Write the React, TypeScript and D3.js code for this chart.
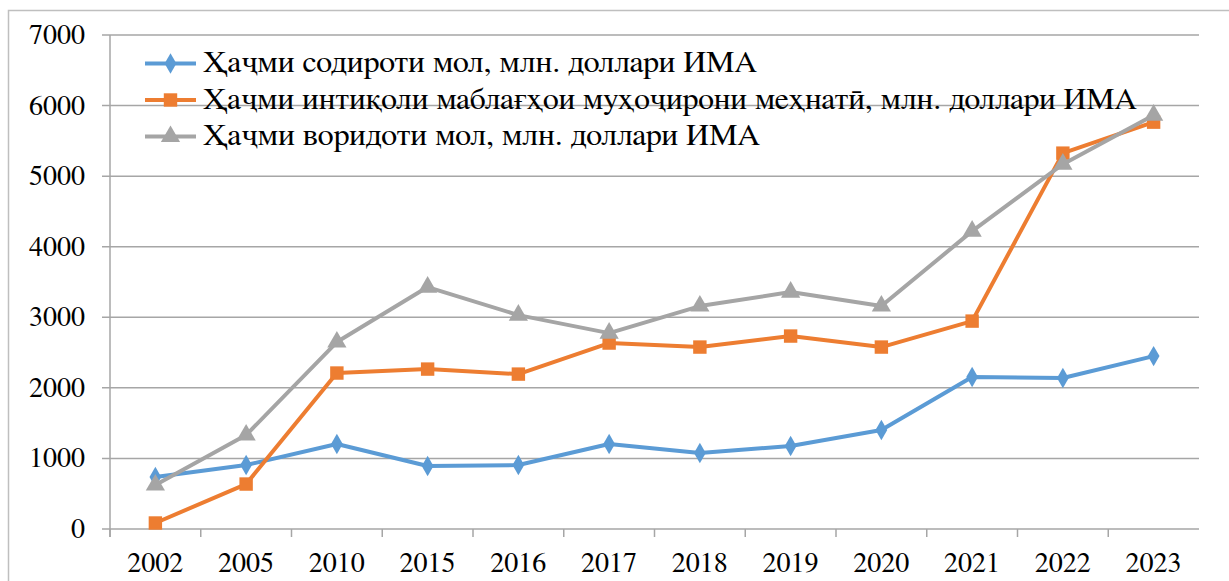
import React from 'react';
import * as d3 from 'd3';

const years = ['2002', '2005', '2010', '2015', '2016', '2017', '2018', '2019', '2020', '2021', '2022', '2023'];
const exportsVals = [737, 906, 1204, 892, 906, 1204, 1076, 1176, 1402, 2153, 2139, 2450];
const remittVals = [85, 637, 2210, 2266, 2195, 2635, 2578, 2734, 2578, 2946, 5326, 5765];
const importsVals = [623, 1331, 2649, 3428, 3031, 2776, 3159, 3357, 3159, 4221, 5170, 5864];
const yTicks = [0, 1000, 2000, 3000, 4000, 5000, 6000, 7000];

const seriesNames = [
  'Ҳаҷми содироти мол, млн. доллари ИМА',
  'Ҳаҷми интиқоли маблағҳои муҳоҷирони меҳнатӣ, млн. доллари ИМА',
  'Ҳаҷми воридоти мол, млн. доллари ИМА',
];
// measured widths of the legend labels in the reference
const legendWidths = [554, 934, 557];
const colors = ['#5B9BD5', '#ED7D31', '#A5A5A5'];
const symbols = [d3.symbolDiamond, d3.symbolSquare, d3.symbolTriangle];
const symSizes = [120, 180, 160];

export default function App() {
  const width = 1229;
  const height = 581;
  const MARGIN = { top: 35, right: 30, bottom: 52, left: 110 };
  const boundsWidth = width - MARGIN.left - MARGIN.right;
  const boundsHeight = height - MARGIN.top - MARGIN.bottom;
  const font = 'FreeSerif, "Liberation Serif", serif';

  const xScale = d3.scaleBand().domain(years).range([0, boundsWidth]);
  const yScale = d3.scaleLinear().domain([0, 7000]).range([boundsHeight, 0]);

  const data = [exportsVals, remittVals, importsVals];
  const line = d3
    .line<number>()
    .x((_, i) => (xScale(years[i]) ?? 0) + xScale.bandwidth() / 2)
    .y((d) => yScale(d));

  const grid = yTicks.map((v) => (
    <g key={v}>
      <line x1={-8} x2={boundsWidth} y1={yScale(v)} y2={yScale(v)} stroke="#A6A6A6" strokeWidth={1.5} />
      <text x={-25} y={yScale(v) + 9} textAnchor="end" fontSize={28} fontFamily={font}>
        {v}
      </text>
    </g>
  ));

  const xTicks = years.map((y, i) => (
    <g key={y}>
      <line
        x1={i * xScale.step()}
        x2={i * xScale.step()}
        y1={boundsHeight}
        y2={boundsHeight + 8}
        stroke="#A6A6A6"
        strokeWidth={1.5}
      />
      <text
        x={(xScale(y) ?? 0) + xScale.bandwidth() / 2}
        y={boundsHeight + 43}
        textAnchor="middle"
        fontSize={28}
        fontFamily={font}
      >
        {y}
      </text>
    </g>
  ));

  const series = data.map((vals, s) => (
    <g key={s}>
      <path d={line(vals) ?? ''} fill="none" stroke={colors[s]} strokeWidth={4} strokeLinejoin="round" />
      {vals.map((v, i) => (
        <path
          key={i}
          transform={`translate(${(xScale(years[i]) ?? 0) + xScale.bandwidth() / 2},${yScale(v)})`}
          d={d3.symbol(symbols[s], symSizes[s])() ?? ''}
          fill={colors[s]}
        />
      ))}
    </g>
  ));

  const legend = seriesNames.map((name, s) => (
    <g key={s} transform={`translate(145,${63.5 + s * 36.5})`}>
      <line x1={0} x2={51} y1={0} y2={0} stroke={colors[s]} strokeWidth={4} />
      <path transform="translate(25.5,0)" d={d3.symbol(symbols[s], symSizes[s])() ?? ''} fill={colors[s]} />
      <text
        x={58}
        y={8.5}
        fontSize={30}
        fontFamily={font}
        textLength={legendWidths[s]}
        lengthAdjust="spacingAndGlyphs"
      >
        {name}
      </text>
    </g>
  ));

  return (
    <svg width={width} height={height} style={{ position: 'absolute', left: 0, top: 0, background: '#fff' }}>
      <rect x={8.5} y={10.5} width={1230} height={590} fill="#fff" stroke="#BFBFBF" strokeWidth={1.5} />
      <g transform={`translate(${MARGIN.left},${MARGIN.top})`}>
        {grid}
        <line x1={0} x2={0} y1={0} y2={boundsHeight + 8} stroke="#A6A6A6" strokeWidth={1.5} />
        {xTicks}
        {series}
      </g>
      {legend}
    </svg>
  );
}
